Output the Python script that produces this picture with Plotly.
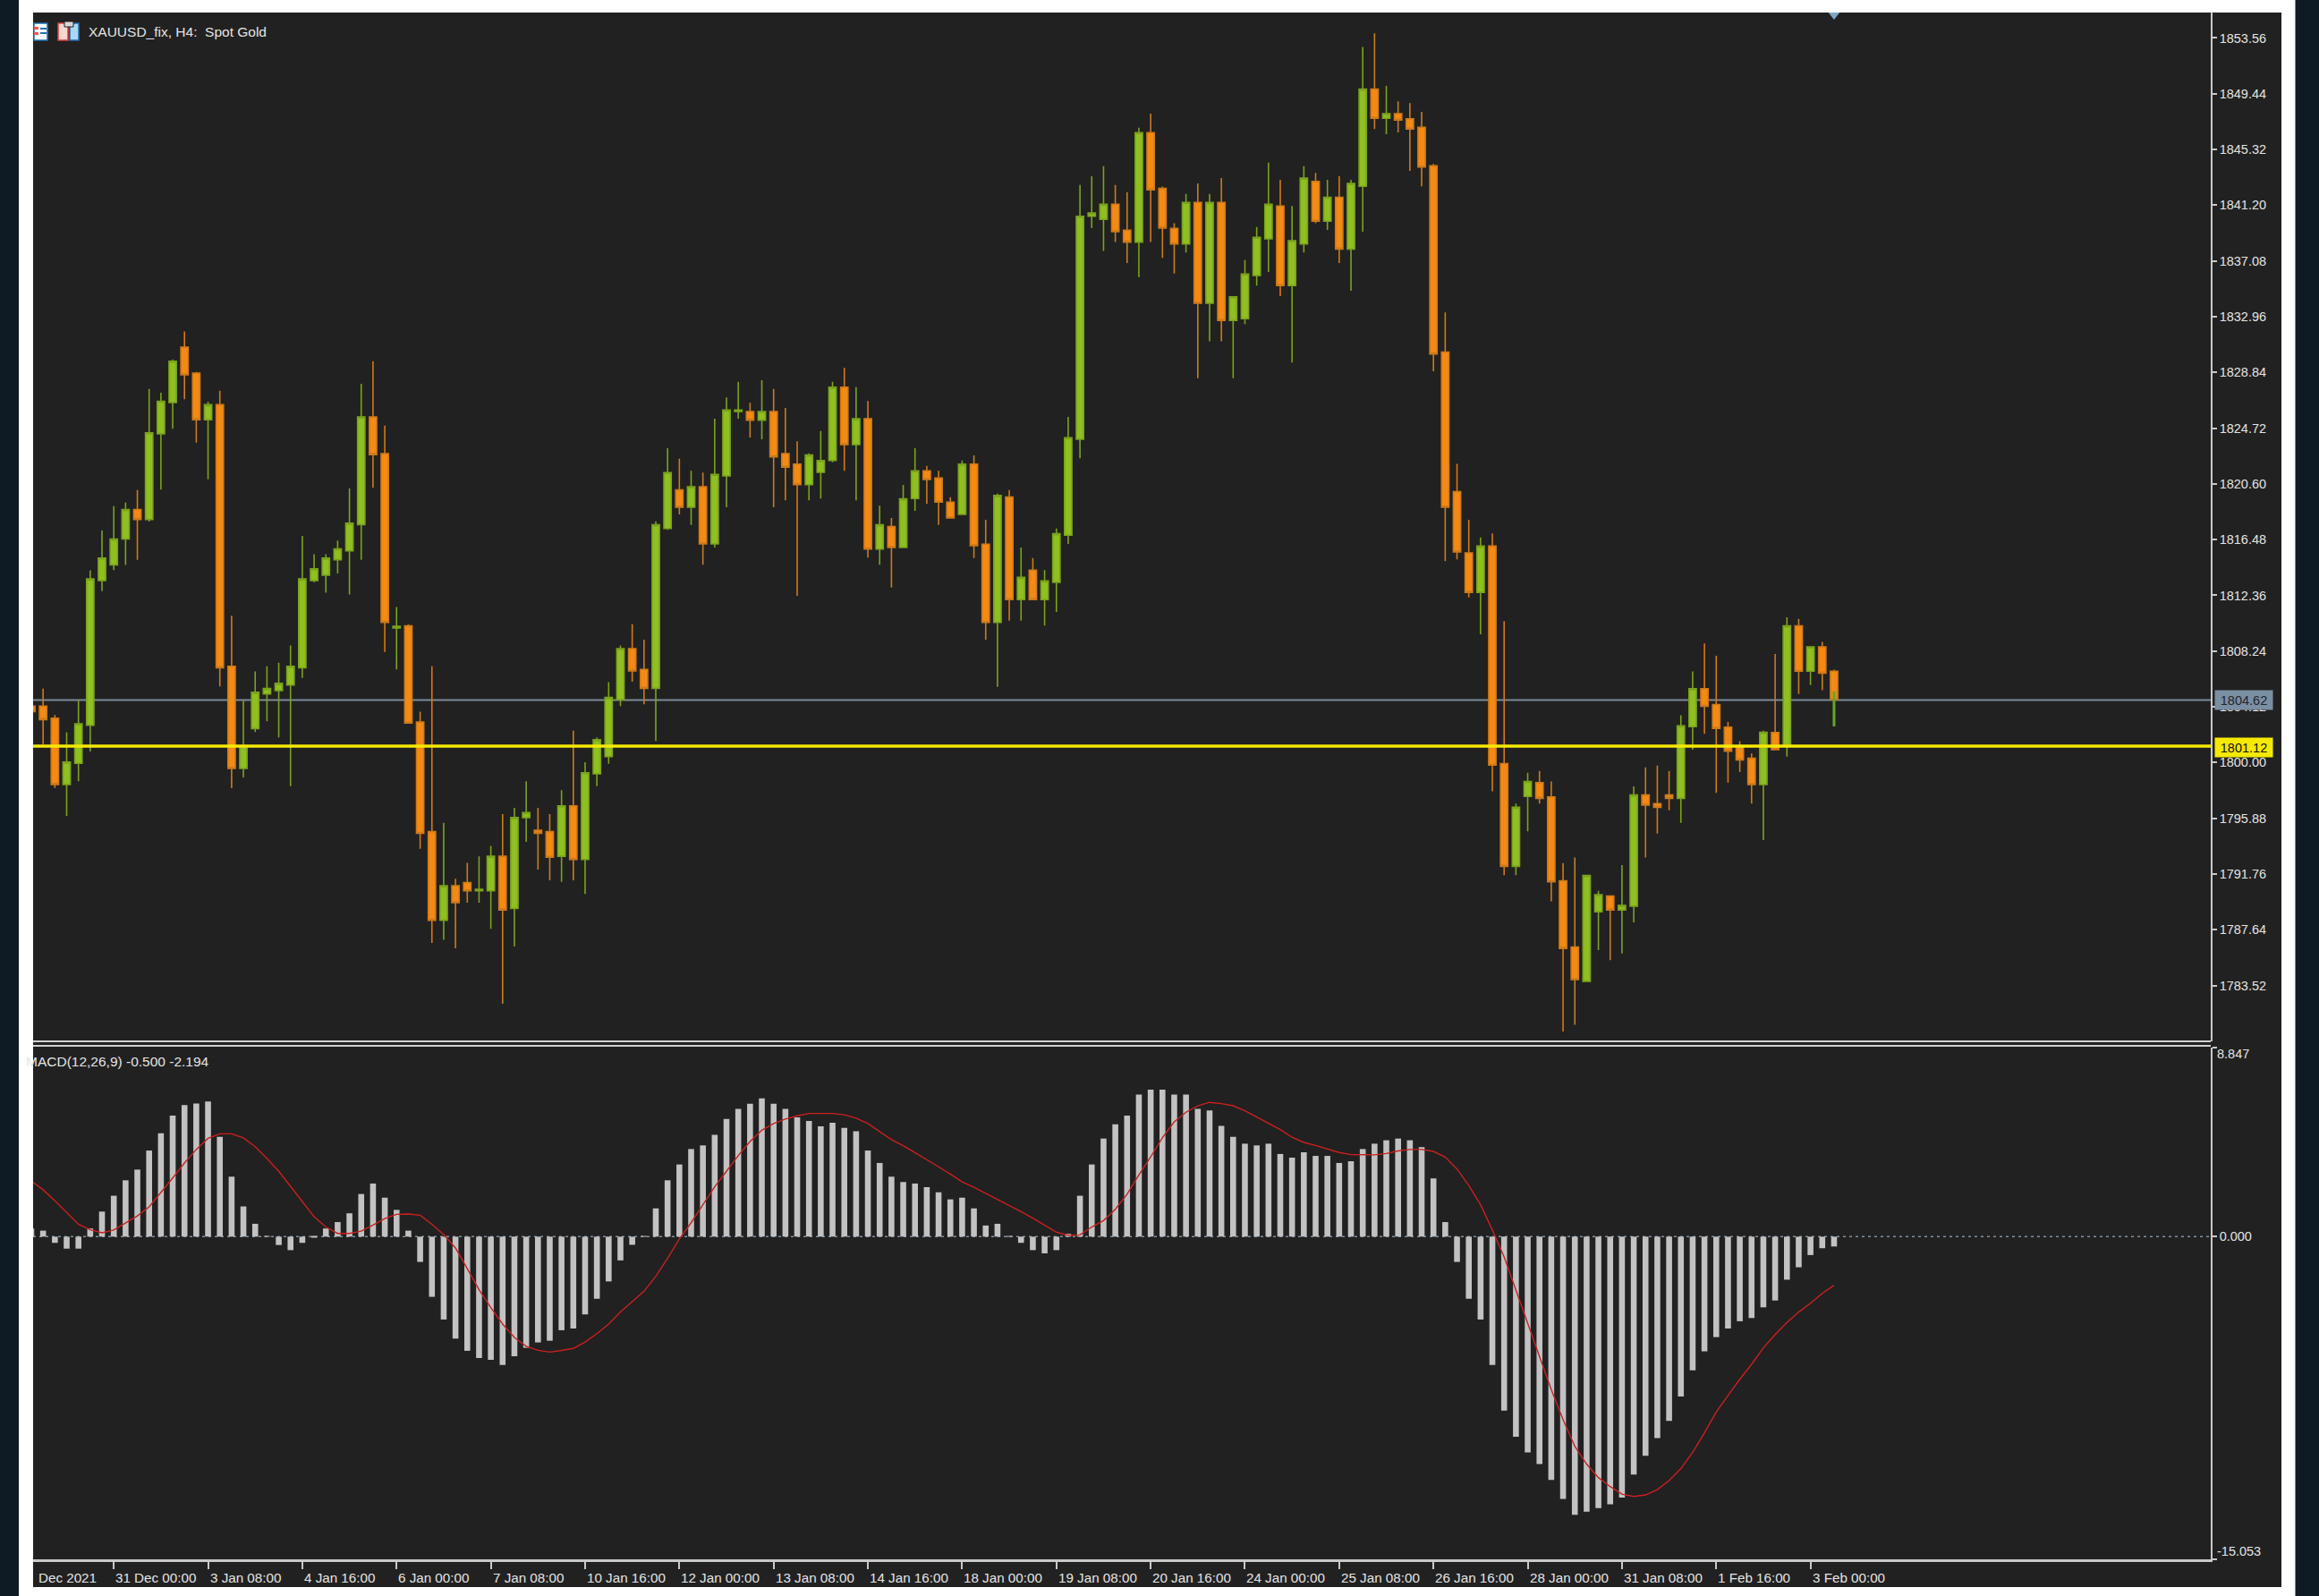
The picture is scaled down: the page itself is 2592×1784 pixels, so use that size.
import plotly.graph_objects as go

W, H = 2592, 1784

direction = ("OOOGGGGGGO" "GGGOOGOOGG" "GGGGGGGGGO" "OGOOOGOOGG" "OGGOOGOGGG"
             "GOOGGOGOGG" "GOGOOOGGGO" "GOGOGGOOOG" "OOGOGOGGGG" "GGOOGOOOGO"
             "GOGGGGOGGO" "GOGGOGOOOO" "OOOGOOGGOO" "OOGGOGGOOO" "GGOOOOOGOG" "OGOO")

body_top = [
 1804.17,1804.17,1803.27,1800.03,1802.87,1813.57,1815.12,1816.52,1818.70,1818.70,
 1824.38,1826.71,1829.67,1830.71,1828.78,1826.45,1826.45,1807.12,1801.22,1805.19,
 1805.47,1805.85,1807.12,1813.57,1814.32,1815.12,1815.79,1817.69,1825.54,1825.54,
 1822.83,1810.07,1810.10,1802.99,1794.89,1790.89,1790.89,1791.13,1790.63,1793.07,
 1793.07,1795.93,1796.30,1795.00,1794.89,1796.80,1796.80,1799.25,1801.69,1804.81,
 1808.42,1808.42,1806.88,1817.57,1821.43,1820.15,1820.39,1820.39,1821.30,1826.06,
 1826.06,1825.95,1825.95,1825.95,1822.84,1822.06,1822.73,1822.33,1827.75,1827.75,
 1825.42,1825.42,1817.57,1817.44,1819.49,1821.56,1821.56,1821.03,1819.25,1822.06,
 1822.06,1816.14,1819.75,1819.62,1813.69,1814.22,1813.43,1816.91,1824.01,1840.38,
 1840.63,1841.27,1841.27,1839.35,1846.56,1846.56,1842.44,1839.49,1841.40,1841.40,
 1841.40,1841.40,1834.43,1836.11,1838.82,1841.27,1841.14,1838.58,1843.21,1842.95,
 1841.78,1841.78,1842.81,1849.78,1849.78,1847.97,1847.97,1847.59,1846.96,1844.11,
 1830.34,1820.02,1815.50,1816.00,1816.00,1799.92,1796.69,1798.60,1798.51,1797.46,
 1791.26,1786.37,1791.65,1790.24,1790.13,1789.44,1797.60,1797.60,1796.96,1797.60,
 1802.72,1805.46,1805.46,1804.29,1802.61,1801.17,1800.31,1802.24,1802.22,1810.10,
 1810.10,1808.55,1808.55,1806.75]

body_bottom = [
 1803.76,1803.17,1798.38,1798.38,1799.94,1802.75,1813.45,1814.61,1816.52,1817.97,
 1817.97,1824.30,1826.61,1828.66,1825.34,1825.34,1807.00,1799.56,1799.56,1802.51,
 1805.07,1805.32,1805.73,1807.00,1813.45,1813.85,1814.99,1815.65,1817.59,1822.76,
 1810.36,1809.95,1802.92,1794.77,1788.34,1788.34,1789.64,1790.52,1790.52,1790.52,
 1789.10,1789.21,1795.93,1794.77,1793.00,1793.07,1792.83,1792.83,1799.16,1800.44,
 1804.64,1806.77,1805.49,1805.49,1817.30,1818.87,1818.87,1816.16,1816.16,1821.18,
 1825.95,1825.31,1825.31,1822.59,1821.83,1820.54,1820.54,1821.45,1822.33,1823.50,
 1823.50,1815.78,1815.78,1815.89,1815.89,1819.51,1820.92,1819.25,1818.08,1818.34,
 1816.03,1810.36,1810.36,1812.04,1812.04,1812.04,1812.04,1813.31,1816.80,1823.90,
 1840.38,1840.15,1839.24,1838.47,1838.47,1842.33,1839.51,1838.33,1838.33,1833.95,
 1833.95,1832.67,1832.67,1832.81,1836.00,1838.71,1835.25,1835.25,1838.33,1840.02,
 1840.02,1837.96,1837.96,1842.59,1847.62,1847.62,1847.49,1846.83,1844.02,1830.20,
 1818.88,1815.56,1812.58,1812.58,1799.81,1792.33,1792.33,1797.49,1797.35,1791.18,
 1786.26,1783.95,1783.82,1788.97,1789.10,1789.10,1789.38,1796.85,1796.69,1797.35,
 1797.35,1802.65,1804.16,1802.52,1800.83,1800.19,1798.37,1798.37,1800.95,1801.29,
 1806.75,1806.75,1806.61,1804.64]

wick_high = [
 1805.44,1805.47,1803.51,1802.23,1804.64,1814.21,1817.15,1818.96,1819.21,1820.15,
 1827.62,1827.34,1829.80,1831.87,1828.88,1826.68,1827.49,1810.85,1804.57,1806.74,
 1807.12,1807.38,1808.66,1816.75,1815.39,1815.39,1816.40,1820.26,1827.99,1829.67,
 1824.91,1811.49,1810.21,1803.76,1807.12,1795.55,1791.41,1792.59,1793.07,1793.84,
 1796.18,1796.65,1798.62,1796.65,1796.18,1797.96,1802.35,1800.03,1801.85,1805.94,
 1808.66,1810.23,1809.08,1817.83,1823.24,1822.46,1821.56,1821.43,1825.42,1826.99,
 1828.15,1826.59,1828.26,1827.62,1826.21,1823.74,1822.86,1824.51,1828.15,1829.17,
 1827.75,1826.72,1818.98,1818.08,1820.52,1823.24,1821.93,1821.56,1819.62,1822.33,
 1822.71,1817.94,1819.88,1820.15,1815.89,1815.12,1814.22,1817.30,1825.55,1842.70,
 1843.34,1844.09,1842.70,1842.17,1846.93,1847.97,1842.57,1839.86,1842.04,1842.81,
 1842.04,1843.21,1834.43,1837.14,1839.59,1844.35,1843.08,1841.14,1844.09,1843.59,
 1843.08,1843.34,1843.08,1852.89,1853.90,1850.02,1848.88,1848.74,1848.10,1844.25,
 1833.27,1822.07,1817.94,1816.64,1816.93,1810.46,1796.96,1799.24,1799.37,1798.60,
 1792.57,1792.98,1791.65,1790.52,1790.13,1792.41,1798.23,1799.65,1799.78,1799.37,
 1803.50,1806.73,1808.80,1807.89,1803.00,1801.58,1800.67,1802.35,1808.03,1810.74,
 1810.62,1808.55,1808.92,1806.87]

wick_low = [
 1803.40,1801.34,1798.12,1796.06,1798.62,1800.81,1812.67,1814.23,1814.61,1814.99,
 1817.82,1820.17,1824.68,1826.86,1823.65,1820.93,1805.63,1798.10,1798.90,1802.25,
 1803.04,1801.85,1798.26,1806.25,1813.31,1812.55,1813.97,1812.43,1814.99,1820.30,
 1808.18,1806.89,1802.92,1793.63,1786.67,1786.90,1786.26,1789.64,1789.64,1787.70,
 1782.16,1786.40,1794.13,1792.08,1791.30,1791.18,1791.30,1790.28,1798.26,1799.91,
 1804.17,1805.97,1804.30,1801.59,1817.20,1818.34,1817.57,1814.62,1815.89,1818.87,
 1825.42,1824.01,1823.90,1818.87,1819.38,1812.32,1819.38,1819.51,1822.20,1821.56,
 1819.38,1815.15,1814.62,1812.94,1815.89,1818.60,1819.11,1817.57,1818.08,1818.34,
 1815.12,1809.08,1805.60,1810.49,1810.49,1812.04,1810.12,1811.13,1816.16,1822.49,
 1839.51,1837.81,1838.47,1836.93,1835.89,1838.47,1837.30,1836.15,1837.70,1828.41,
 1831.13,1831.13,1828.41,1832.41,1835.25,1836.26,1834.48,1829.56,1837.70,1839.86,
 1839.37,1836.93,1834.88,1839.24,1846.83,1846.45,1846.58,1843.74,1842.59,1828.92,
 1814.89,1815.01,1812.20,1809.48,1797.87,1791.67,1791.67,1794.91,1796.96,1789.74,
 1780.11,1780.61,1783.82,1786.14,1785.39,1785.89,1788.19,1792.98,1794.75,1796.46,
 1795.55,1800.95,1802.13,1797.76,1798.51,1799.29,1796.96,1794.27,1800.95,1800.44,
 1805.07,1805.73,1805.34,1804.64]

macd_hist = [
 0.38,0.28,-0.29,-0.56,-0.56,0.38,1.17,1.91,2.63,3.13,
 4.02,4.83,5.65,6.14,6.22,6.31,4.66,2.80,1.41,0.60,
 0.03,-0.39,-0.63,-0.29,-0.02,0.38,0.68,1.09,1.99,2.48,
 1.82,1.25,0.28,-1.18,-2.81,-3.87,-4.76,-5.33,-5.67,-5.75,
 -5.99,-5.58,-5.19,-4.94,-4.86,-4.37,-4.29,-3.63,-2.90,-2.09,
 -1.11,-0.38,0.02,1.32,2.63,3.37,4.09,4.26,4.75,5.49,
 5.97,6.21,6.46,6.21,5.97,5.57,5.40,5.15,5.32,5.08,
 4.92,4.02,3.44,2.80,2.55,2.48,2.31,2.07,1.74,1.82,
 1.32,0.52,0.60,0.03,-0.29,-0.63,-0.78,-0.63,0.13,1.91,
 3.37,4.58,5.24,5.65,6.63,6.86,6.86,6.63,6.63,5.97,
 5.89,5.17,4.66,4.34,4.26,4.34,3.86,3.69,3.94,3.77,
 3.77,3.44,3.52,4.09,4.34,4.50,4.58,4.50,4.18,2.72,
 0.68,-1.18,-2.90,-3.87,-5.99,-8.12,-9.34,-10.07,-10.62,-11.36,
 -12.25,-12.99,-12.84,-12.67,-12.50,-12.18,-11.11,-10.23,-9.41,-8.60,
 -7.46,-6.24,-5.35,-4.69,-4.29,-3.95,-3.80,-3.30,-2.98,-2.01,
 -1.43,-0.86,-0.54,-0.46]

macd_signal = [
 2.60,2.19,1.67,1.11,0.58,0.32,0.18,0.31,0.63,0.97,
 1.39,2.05,2.74,3.44,4.07,4.59,4.80,4.80,4.61,4.20,
 3.65,3.05,2.33,1.66,0.93,0.45,0.15,0.15,0.26,0.54,
 0.84,1.04,1.06,1.00,0.58,0.10,-0.53,-1.50,-2.48,-3.31,
 -4.08,-4.71,-5.12,-5.31,-5.39,-5.31,-5.22,-4.92,-4.53,-4.08,
 -3.52,-3.04,-2.55,-1.85,-1.02,-0.11,0.65,1.49,2.33,3.05,
 3.79,4.44,4.97,5.28,5.49,5.64,5.75,5.75,5.75,5.69,
 5.53,5.28,4.90,4.53,4.25,3.93,3.58,3.26,2.92,2.56,
 2.30,2.02,1.71,1.45,1.17,0.86,0.52,0.21,0.06,0.08,
 0.45,0.75,1.28,1.98,2.88,3.72,4.62,5.36,5.81,6.11,
 6.27,6.21,6.11,5.88,5.58,5.30,5.00,4.64,4.40,4.26,
 4.11,3.93,3.83,3.82,3.82,3.88,4.00,4.07,4.07,3.98,
 3.72,3.16,2.39,1.49,0.31,-0.95,-2.48,-4.01,-5.54,-7.14,
 -8.54,-9.79,-10.62,-11.25,-11.67,-12.02,-12.13,-12.06,-11.81,-11.39,
 -10.83,-10.07,-9.16,-8.19,-7.42,-6.66,-5.96,-5.19,-4.57,-4.01,
 -3.52,-3.11,-2.65,-2.27]

price_ticks = [1853.56,1849.44,1845.32,1841.20,1837.08,1832.96,1828.84,1824.72,1820.60,
               1816.48,1812.36,1808.24,1804.12,1800.00,1795.88,1791.76,1787.64,1783.52]
time_tick_positions = [7,15,23,31,39,47,55,63,71,79,87,95,103,111,119,127,135,143,151]
time_tick_labels = ["31 Dec 00:00","3 Jan 08:00","4 Jan 16:00","6 Jan 00:00","7 Jan 08:00",
                    "10 Jan 16:00","12 Jan 00:00","13 Jan 08:00","14 Jan 16:00","18 Jan 00:00",
                    "19 Jan 08:00","20 Jan 16:00","24 Jan 00:00","25 Jan 08:00","26 Jan 16:00",
                    "28 Jan 00:00","31 Jan 08:00","1 Feb 16:00","3 Feb 00:00"]
bid_price = 1804.62
ask_price = 1801.12
live_candle_top = 1805.27
live_candle_bottom = 1802.67

FONT = "Liberation Sans Narrow, Liberation Sans, Arial, sans-serif"
PANEL = "#212121"
AXIS = "#c9c9c9"
TEXT = "#e4e4e4"

index = list(range(len(direction)))
opens = [b if d == "G" else t for d, t, b in zip(direction, body_top, body_bottom)]
closes = [t if d == "G" else b for d, t, b in zip(direction, body_top, body_bottom)]

X_RANGE = [0.152, 184.97]
PX = lambda x: x / W
PY = lambda y: 1 - y / H

fig = go.Figure()

fig.add_trace(go.Candlestick(
    x=index, open=opens, high=wick_high, low=wick_low, close=closes,
    xaxis="x", yaxis="y", whiskerwidth=0,
    increasing=dict(line=dict(color="#7ba31c", width=1.6), fillcolor="#8fbf20"),
    decreasing=dict(line=dict(color="#cf7a18", width=1.6), fillcolor="#f48a14"),
    hoverinfo="skip", showlegend=False))

fig.add_trace(go.Scatter(
    x=[index[-1], index[-1]], y=[live_candle_top, live_candle_bottom],
    mode="lines", line=dict(color="#62a825", width=3),
    xaxis="x", yaxis="y", hoverinfo="skip", showlegend=False))

fig.add_trace(go.Scatter(
    x=[index[-1]], y=[1855.4], mode="markers",
    marker=dict(symbol="triangle-down", size=15, color="#7fa6c6"),
    xaxis="x", yaxis="y", hoverinfo="skip", showlegend=False))

fig.add_trace(go.Bar(
    x=index, y=macd_hist, width=0.5,
    marker=dict(color="#c2c2c2", line=dict(width=0)),
    xaxis="x2", yaxis="y2", hoverinfo="skip", showlegend=False))

fig.add_trace(go.Scatter(
    x=index, y=macd_signal, mode="lines",
    line=dict(color="#cc1f1f", width=1.4),
    xaxis="x2", yaxis="y2", hoverinfo="skip", showlegend=False))


def rect(x0, y0, x1, y1, fill, line=None, lw=0, layer="below"):
    return dict(type="rect", xref="paper", yref="paper", layer=layer,
                x0=PX(x0), x1=PX(x1), y0=PY(y1), y1=PY(y0),
                fillcolor=fill, line=dict(color=line or fill, width=lw))


shapes = [
    rect(0, 0, 21, H, "#0f1b24"),
    rect(2565.5, 0, W, H, "#0f1b24"),
    rect(37, 14, 2550, 1774, PANEL),
    # window separators between the two panes
    rect(37, 1163, 2471, 1165, "#d0d0d0", layer="above"),
    rect(37, 1168, 2471, 1170, "#d0d0d0", layer="above"),
    # toolbar icons
    rect(38, 26, 53, 45, "#ffffff", "#1f6fb5", 1.5, "above"),
    rect(38, 30, 43, 33, "#e8584f", layer="above"),
    rect(38, 36, 43, 39, "#e8584f", layer="above"),
    rect(45, 31, 52, 33, "#1f6fb5", layer="above"),
    rect(45, 36, 52, 38, "#1f6fb5", layer="above"),
    rect(65, 26, 76, 45, "#ffd5d0", "#d8433d", 1.5, "above"),
    rect(78, 26, 88, 45, "#a9d8f5", "#1f6fb5", 1.5, "above"),
    rect(72, 24, 82, 30, "#d8d8d8", "#212121", 1, "above"),
    # price lines and zero line
    dict(type="line", xref="x domain", yref="y", layer="below", x0=0, x1=1,
         y0=bid_price, y1=bid_price, line=dict(color="#7c8a99", width=2)),
    dict(type="line", xref="x domain", yref="y", layer="above", x0=0, x1=1,
         y0=1801.22, y1=1801.22, line=dict(color="#f5e900", width=3.5)),
    dict(type="line", xref="x2 domain", yref="y2", layer="below", x0=0, x1=1,
         y0=0, y1=0, line=dict(color="#7f8fa0", width=1.4, dash="3px,4px")),
]

annotations = [
    dict(xref="paper", yref="paper", x=PX(97), y=PY(36), text="XAUUSD_fix, H4:  Spot Gold",
         showarrow=False, xanchor="left", yanchor="middle",
         font=dict(family=FONT, size=15.5, color=TEXT)),
    dict(xref="paper", yref="paper", x=PX(27), y=PY(1186), text="MACD(12,26,9) -0.500 -2.194",
         showarrow=False, xanchor="left", yanchor="middle",
         font=dict(family=FONT, size=15.5, color=TEXT)),
    dict(xref="paper", yref="paper", x=PX(41), y=PY(1763), text="Dec 2021",
         showarrow=False, xanchor="left", yanchor="middle",
         font=dict(family=FONT, size=15.2, color=TEXT)),
    dict(xref="paper", yref="y", x=PX(2475), y=bid_price, text="1804.62",
         showarrow=False, xanchor="left", yanchor="middle", bgcolor="#7b8fa3",
         width=64, height=21, borderpad=0, font=dict(family=FONT, size=14.5, color="#20262c")),
    dict(xref="paper", yref="y", x=PX(2475), y=ask_price, text="1801.12",
         showarrow=False, xanchor="left", yanchor="middle", bgcolor="#f5e900",
         width=64, height=21, borderpad=0, font=dict(family=FONT, size=14.5, color="#111111")),
    dict(xref="paper", yref="y2", x=PX(2476), y=8.847, yshift=-7, text="8.847",
         showarrow=False, xanchor="left", yanchor="middle",
         font=dict(family=FONT, size=14.5, color=TEXT)),
    dict(xref="paper", yref="y2", x=PX(2476), y=-15.053, yshift=9, text="-15.053",
         showarrow=False, xanchor="left", yanchor="middle",
         font=dict(family=FONT, size=14.5, color=TEXT)),
]
for pos, lab in zip(time_tick_positions, time_tick_labels):
    annotations.append(dict(xref="x2", yref="paper", x=pos, y=PY(1763), text=lab,
                            showarrow=False, xanchor="left", yanchor="middle",
                            font=dict(family=FONT, size=15.2, color=TEXT)))

fig.update_layout(
    width=W, height=H, margin=dict(l=0, r=0, t=0, b=0),
    paper_bgcolor="#ffffff", plot_bgcolor="rgba(0,0,0,0)",
    showlegend=False, boxgap=0.11, boxgroupgap=0.3,
    font=dict(family=FONT, size=15, color=TEXT),
    shapes=shapes, annotations=annotations,
    xaxis=dict(domain=[PX(37), PX(2471)], range=X_RANGE, anchor="y",
               showticklabels=False, ticks="", showgrid=False, zeroline=False,
               showline=False, rangeslider=dict(visible=False)),
    yaxis=dict(domain=[PY(1164), PY(14)], range=[1779.39, 1855.44], anchor="x", side="right",
               tickmode="array", tickvals=price_ticks,
               ticktext=[f"{v:.2f}" for v in price_ticks],
               ticks="outside", ticklen=5, tickwidth=1.5, tickcolor=AXIS,
               showgrid=False, zeroline=False, showline=True, linecolor=AXIS, linewidth=1.5,
               tickfont=dict(family=FONT, size=14.5, color=TEXT)),
    xaxis2=dict(domain=[PX(37), PX(2471)], range=X_RANGE, anchor="y2",
                tickmode="array", tickvals=time_tick_positions, ticktext=[""] * len(time_tick_positions),
                ticks="outside", ticklen=8, tickwidth=1.5, tickcolor=AXIS,
                showgrid=False, zeroline=False, showline=True, linecolor=AXIS, linewidth=3),
    yaxis2=dict(domain=[PY(1742.7), PY(1170.5)], range=[-15.053, 8.847], anchor="x2", side="right",
                tickmode="array", tickvals=[8.847, 0, -15.053], ticktext=["", "0.000", ""],
                ticks="outside", ticklen=5, tickwidth=1.5, tickcolor=AXIS,
                showgrid=False, zeroline=False, showline=True, linecolor=AXIS, linewidth=1.5,
                tickfont=dict(family=FONT, size=14.5, color=TEXT)),
)

fig.write_html("out.html", config=dict(displayModeBar=False),
               post_script="document.body.style.margin='0';document.documentElement.style.overflow='hidden';")
